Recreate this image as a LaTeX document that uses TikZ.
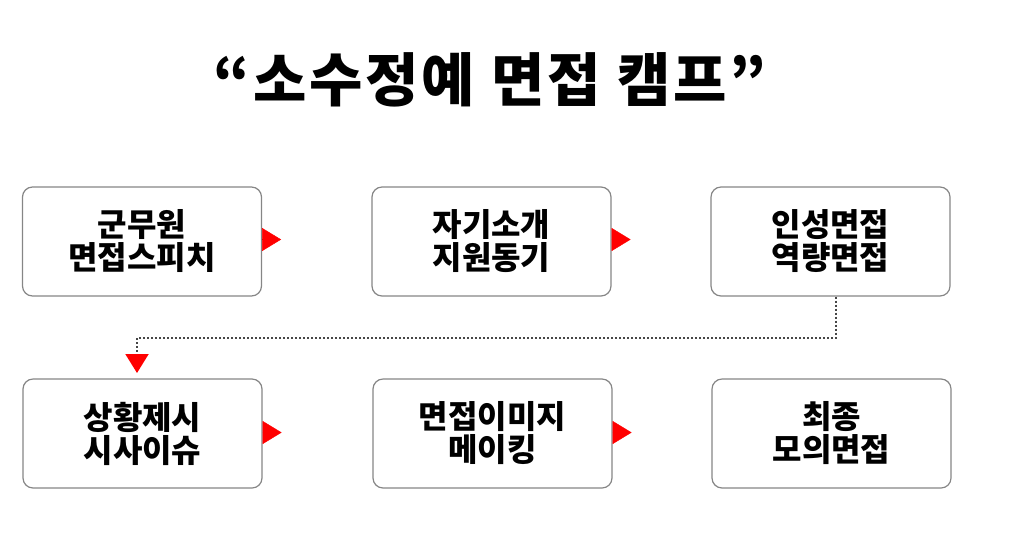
\documentclass[tikz,border=0pt]{standalone}
\usepackage{fontspec}
\setmainfont{Noto Sans CJK KR}[BoldFont=* Black]
\usetikzlibrary{arrows.meta}
\tikzset{
  box/.style={draw=gray!95, line width=1.2pt, rounded corners=10pt, minimum width=239pt, minimum height=109pt, align=center, font=\fontsize{32}{33}\selectfont\bfseries},
  tip/.style={-{Triangle[red, width=23pt, length=19pt]}},
}
\begin{document}
\begin{tikzpicture}[x=1pt,y=-1pt]
                    \useasboundingbox (0,0) rectangle (1024,550);
                    \node[font=\fontsize{58}{60}\selectfont\bfseries\addfontfeatures{LetterSpace=5}] (T) at (490,80) {“소수정예 면접 캠프”};

                    \node[box] (A) at (142,241.5) {군무원\\면접스피치};
                    \node[box] (B) at (491.5,241.5) {자기소개\\지원동기};
                    \node[box] (C) at (830.5,241.5) {인성면접\\역량면접};
                    \node[box] (D) at (142.5,433.5) {상황제시\\시사이슈};
                    \node[box] (E) at (492.5,433.5) {면접이미지\\메이킹};
                    \node[box] (F) at (831.5,433.5) {최종\\모의면접};

                    \coordinate (P) at (137,373);

                    \draw[tip] ([yshift=2pt]A.east) -- ++(19,0);
                    \draw[tip] ([yshift=2pt]B.east) -- ++(19,0);
                    \draw[tip] ([yshift=1pt]D.east) -- ++(19,0);
                    \draw[tip] ([yshift=1pt]E.east) -- ++(19,0);
                    \draw[tip, gray!55!black, line width=2pt, dotted] ([xshift=5pt]C.south) -- ++(0,41) -| (P);
                \end{tikzpicture}
\end{document}
